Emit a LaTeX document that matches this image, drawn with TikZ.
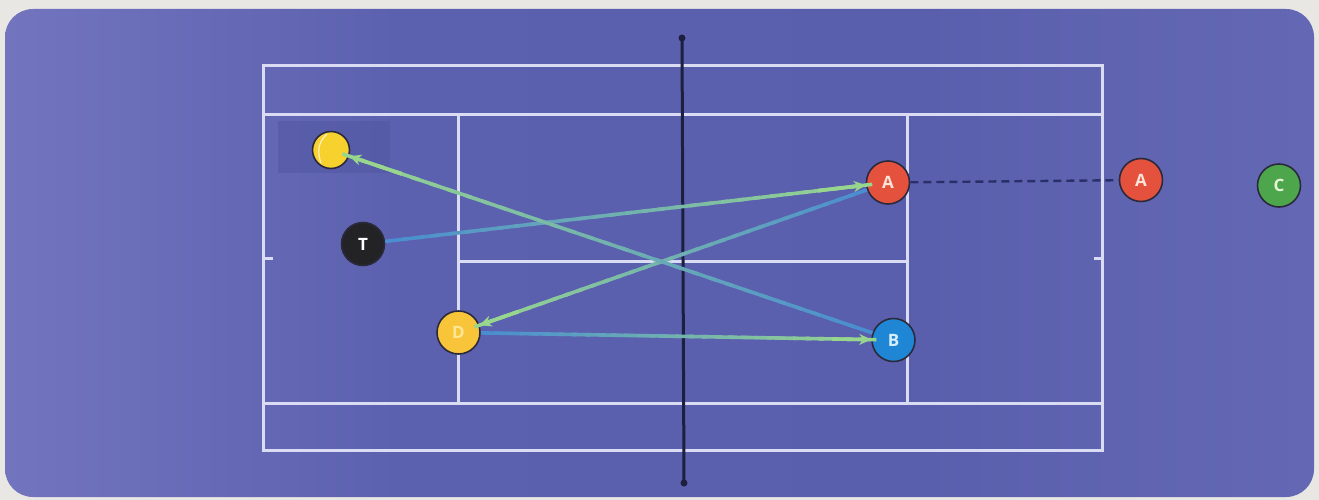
\documentclass[tikz,border=0pt]{standalone}
\usepackage{fontspec}
\setmainfont{Open Sans}
\usetikzlibrary{arrows.meta,calc}
\definecolor{pagebg}{HTML}{E9E7E4}
\definecolor{courtA}{HTML}{7274BE}
\definecolor{courtB}{HTML}{5C61AF}
\definecolor{courtC}{HTML}{5A5FAD}
\definecolor{courtD}{HTML}{6468B4}
\definecolor{shadebox}{HTML}{4F54A0}
\definecolor{courtline}{HTML}{D9DCF2}
\definecolor{netcol}{HTML}{1C1F3E}
\definecolor{arrowblue}{HTML}{4A8DD0}
\definecolor{arrowgreen}{HTML}{98D68E}
\definecolor{redfill}{HTML}{E4523D}
\definecolor{redtext}{HTML}{FCE3DA}
\definecolor{bluefill}{HTML}{1F86D6}
\definecolor{bluetext}{HTML}{D4EEFB}
\definecolor{greenfill}{HTML}{4DA64C}
\definecolor{greentext}{HTML}{E4F6D6}
\definecolor{yellowfill}{HTML}{F8C43A}
\definecolor{yellowtext}{HTML}{FFE692}
\definecolor{ballfill}{HTML}{F7D22E}
\definecolor{blackfill}{HTML}{232326}
\definecolor{rimcol}{HTML}{2A2A3C}
\definecolor{dashcol}{HTML}{2A2F6A}
\pgfdeclarehorizontalshading{courtshade}{100bp}{color(0bp)=(courtA); color(25bp)=(courtA); color(40bp)=(courtB); color(60bp)=(courtC); color(75bp)=(courtD); color(100bp)=(courtD)}
\tikzset{
  player/.style={circle, draw=rimcol, line width=1.6pt, minimum size=43pt, inner sep=0pt,
    font=\fontsize{17}{18}\selectfont\bfseries},
  courtl/.style={draw=courtline, line width=3pt},
  grad/.style={line width=3.6pt},
}
\newcommand{\gradarrow}[2]{%
  \path (#1) -- (#2) coordinate[pos=0] (gs) coordinate[pos=1] (ge);
  \foreach \i in {0,...,29}{%
    \pgfmathsetmacro\pp{100-\i*100/29}%
    \draw[grad, color=arrowblue!\pp!arrowgreen] ($(gs)!\i/30!(ge)$) -- ($(gs)!{(\i+1.4)/30}!(ge)$);
  }
  \draw[grad, arrowgreen, -{Stealth[length=12pt,width=11pt]}] ($(gs)!0.9!(ge)$) -- (ge);
}
\begin{document}
\begin{tikzpicture}[x=1pt,y=-1pt]
  \fill[pagebg] (0,0) rectangle (1319,500);
  \useasboundingbox (0,0) rectangle (1319,500);
  \shade[shading=courtshade, rounded corners=28pt] (5,9) rectangle (1314,497);
  % shaded box behind ball
  \fill[shadebox, opacity=0.45] (278,121) rectangle (390,173);
  % court lines
  \draw[courtl] (263,66) rectangle (1102,450);
  \draw[courtl] (263,115) -- (1102,115);
  \draw[courtl] (263,403) -- (1102,403);
  \draw[courtl] (458,115) -- (458,403);
  \draw[courtl] (907,115) -- (907,403);
  \draw[courtl] (458,261) -- (907,261);
  \draw[courtl] (263,258) -- (273,258);
  \draw[courtl] (1102,258) -- (1094,258);
  % net
  \coordinate (nettop) at (682,38);
  \coordinate (netbot) at (684,483);
  \draw[netcol, line width=3pt] (nettop) -- (netbot);
  \fill[netcol] (nettop) circle (3.5pt);
  \fill[netcol] (netbot) circle (3.5pt);
  % players
  \node[player, fill=ballfill, minimum size=37pt] (ball) at (331,150) {};
  \draw[white!70!ballfill, line width=1.2pt] (327,134) .. controls (318,142) and (317,152) .. (321,163);
  \node[player, fill=blackfill, text=white] (T) at (363,244) {T};
  \node[player, fill=yellowfill, text=yellowtext] (D) at (458.5,332.5) {D};
  \node[player, fill=redfill, text=redtext] (A1) at (888,182.5) {A};
  \node[player, fill=redfill, text=redtext] (A2) at (1141,180) {A};
  \node[player, fill=greenfill, text=greentext] (C) at (1279,185.5) {C};
  \node[player, fill=bluefill, text=bluetext] (B) at (893.5,340) {B};
  % dashed
  \draw[dashcol, line width=2.4pt, dash pattern=on 8pt off 5pt] (A1) -- (A2);
  % ball path
  \gradarrow{T}{A1}
  \gradarrow{A1}{D}
  \gradarrow{D}{B}
  \gradarrow{B}{ball}
\end{tikzpicture}
\end{document}
